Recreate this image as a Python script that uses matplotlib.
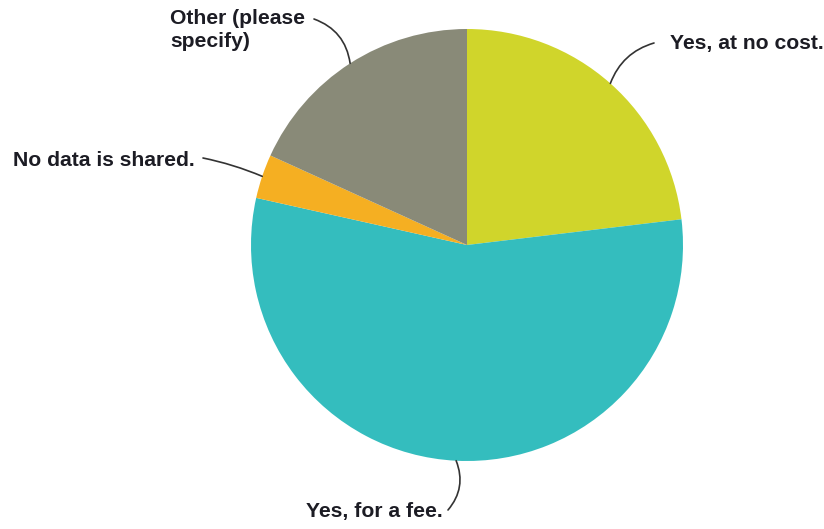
import numpy as np
import matplotlib.pyplot as plt

# Survey answers, share of respondents (%)
labels = ["Yes, at no cost.", "Yes, for a fee.", "No data is shared.",
          "Other (please\nspecify)"]
shares = [23.1, 55.4, 3.3, 18.2]
colors = ["#D0D52B", "#34BDBE", "#F5AF22", "#898A78"]

# where each label sits (pixel coords, y from the top) and how it is anchored
label_xy = [(670, 43), (443, 512), (195, 160), (170, 30)]
label_ha = ["left", "right", "right", "left"]
line_start = [(654, 43), (448, 510), (203, 158), (314, 19)]
line_rad = [0.25, 0.3, -0.05, -0.3]

W, H = 824, 529
fig = plt.figure(figsize=(W / 100, H / 100), dpi=100)
ax = fig.add_axes([0, 0, 1, 1])

cx, cy, r = 467, H - 245, 216
wedges, _ = ax.pie(shares, colors=colors, startangle=90, counterclock=False,
                   center=(cx, cy), radius=r, wedgeprops=dict(linewidth=0))
ax.set_xlim(0, W)
ax.set_ylim(0, H)
ax.set_aspect("equal")
ax.axis("off")

for w, lab, (tx, ty), ha, (lx, ly), rad in zip(wedges, labels, label_xy,
                                               label_ha, line_start, line_rad):
    mid = np.deg2rad((w.theta1 + w.theta2) / 2)
    px, py = cx + r * np.cos(mid), cy + r * np.sin(mid)
    ax.text(tx, H - ty, lab, ha=ha, va="center", fontsize=15.2,
            fontweight="bold", family="Liberation Sans", color="#1c1c24",
            linespacing=1.22)
    ax.annotate("", xy=(px, py), xytext=(lx, H - ly),
                arrowprops=dict(arrowstyle="-", color="#333333", lw=1.2,
                                shrinkA=0, shrinkB=0,
                                connectionstyle="arc3,rad=%s" % rad))

fig.savefig("out.png", dpi=100)
